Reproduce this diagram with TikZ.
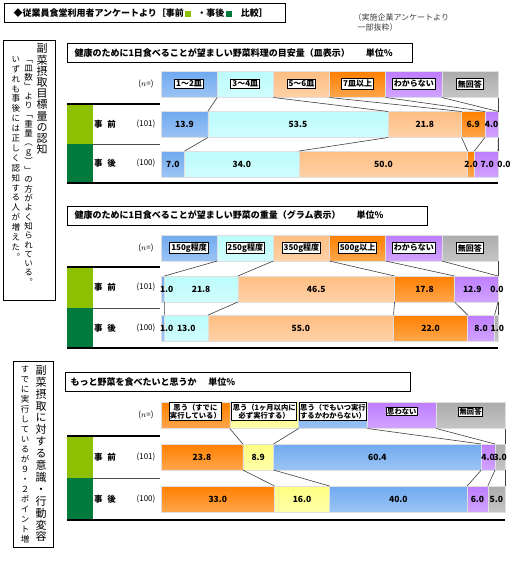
\documentclass[tikz,border=0pt]{standalone}
\usepackage{fontspec}
\setmainfont{Noto Sans CJK JP}
\newfontfamily\tatefont[RawFeature=+vert]{Noto Sans CJK JP}
\usetikzlibrary{positioning}

\definecolor{lgreen}{RGB}{140,192,0}
\definecolor{dgreen}{RGB}{0,122,61}
\definecolor{cblue}{RGB}{112,170,240}
\definecolor{ccyan}{RGB}{188,252,252}
\definecolor{cpeach}{RGB}{255,190,130}
\definecolor{corange}{RGB}{255,128,0}
\definecolor{cpurple}{RGB}{190,125,255}
\definecolor{cgray}{RGB}{172,172,172}
\definecolor{cyellow}{RGB}{255,255,130}

% vertical (tategaki) column: one character per cell
\makeatletter
\newcommand\tate[2]{\vbox{\offinterlineskip\def\tate@pitch{#1}\tate@loop#2\relax}}
\def\tate@loop#1{\ifx\relax#1\else
  \vbox to\tate@pitch{\vss\hbox to 1em{\hss\vrule height .88em depth .12em width 0pt\relax#1\hss}\vss}%
  \expandafter\tate@loop\fi}
\makeatother

% legend strip: name, top, width, number of items, label offset, colour/label list
\newcommand\legbar[6]{
  \foreach \col/\lab [count=\i] in {#6} {
    \pgfmathsetmacro\xa{161+(\i-1)*(#3/#4)}
    \pgfmathsetmacro\xb{161+\i*(#3/#4)}
    \shade[seg, top color=\col, bottom color=\col!70!white] (\xa,#2) rectangle (\xb,#2+26);
    \node[legbox] (#1-n\i) at ({(\xa+\xb)/2},#2+#5) {\lab};
    \coordinate (#1-b\i) at (\xa,#2+26);
  }
  \coordinate (#1-bend) at (161+#3,#2+26);
}

% one bar: name, top, width, value/colour/label/shift list
\newcommand\segbar[4]{
  \xdef\segpos{0}
  \foreach \val/\col/\lab/\dx [count=\i] in {#4} {
    \pgfmathsetmacro\xa{161+\segpos*(#3/100)}
    \pgfmathsetmacro\xb{161+(\segpos+\val)*(#3/100)}
    \ifdim\val pt>0pt
      \shade[seg, top color=\col, bottom color=\col!70!white] (\xa,#2) rectangle (\xb,#2+26);
    \fi
    \coordinate (#1-t\i) at (\xa,#2);
    \coordinate (#1-b\i) at (\xa,#2+26);
    \coordinate (#1-c\i) at ({(\xa+\xb)/2+\dx},#2+13);
    \pgfmathsetmacro\segnew{\segpos+\val}
    \xdef\segpos{\segnew}
  }
  % numbers on top of all segments
  \foreach \val/\col/\lab/\dx [count=\i] in {#4}
    \node[num] (#1-n\i) at (#1-c\i) {\lab};
  \coordinate (#1-tend) at (161+#3,#2);
  \coordinate (#1-bend) at (161+#3,#2+26);
}

% green row frame: name, top, middle, bottom, right end
\newcommand\rowframe[5]{
  \fill[lgreen] (67,#2) rectangle (93,#3);
  \fill[dgreen] (67,#3) rectangle (93,#4);
  \draw[rule] (67,#2) -- (160,#2);
  \draw[black!70, line width=.8] (93,#3) -- (160,#3);
  \draw[rule] (67,#4) -- (#5,#4);
  \node[rowlab] (#1-pre) at (105,{(#2+#3)/2}) {事\hspace{5pt}前};
  \node[rowlab] (#1-post) at (105,{(#3+#4)/2}) {事\hspace{5pt}後};
  \node[nlab] (#1-npre) at (146,{(#2+#3)/2}) {(101)};
  \node[nlab] (#1-npost) at (146,{(#3+#4)/2}) {(100)};
}

\begin{document}
\begin{tikzpicture}[x=1pt, y=-1pt,
  seg/.style={draw=white!75!gray, line width=.4},
  num/.style={font=\fontsize{8.5}{9}\selectfont\bfseries, inner sep=0},
  legbox/.style={draw, line width=.8, fill=white, inner sep=1.5, align=center,
    font=\fontsize{8}{9}\selectfont\bfseries},
  titlebox/.style={draw, line width=1, anchor=north west, align=left, inner xsep=7,
    minimum height=19, font=\fontsize{9}{10}\selectfont\bfseries},
  rowlab/.style={font=\fontsize{8.5}{9}\selectfont\bfseries},
  nlab/.style={font=\fontsize{8}{9}\selectfont},
  link/.style={draw=black!75, line width=.6},
  rule/.style={line width=1.4},
  note/.style={draw, line width=.8, anchor=north west, inner sep=0},
]
\fill[white] (0,0) rectangle (512,562);
\useasboundingbox (0,0) rectangle (512,562);

% header
\node[draw, line width=1.2, minimum width=281, minimum height=19, anchor=north west, inner sep=0] (head) at (4,3) {};
\node[anchor=west, font=\fontsize{9}{9}\selectfont\bfseries] (headtxt) at ([xshift=6]head.west)
  {◆従業員食堂利用者アンケートより［事前\hspace{1.5pt}\textcolor{lgreen}{\rule{6pt}{6pt}}\hspace{6pt}・事後\hspace{1.5pt}\textcolor{dgreen}{\rule{6pt}{6pt}}\hspace{9pt}比較］};
\node[anchor=north west, align=left, font=\fontsize{8}{10}\selectfont, text=black!75] (src) at (350,10)
  {（実施企業アンケートより\\\hspace*{4pt}一部抜粋）};

% notes on the left
\node[note, minimum width=52, minimum height=260] (note1) at (3,40) {};
\node[anchor=north, inner sep=0] (note1a) at (42,43)
  {\tatefont\fontsize{11}{11}\selectfont\tate{11.2pt}{副菜摂取目標量の認知}};
\node[anchor=north, inner sep=0] (note1b) at (28.5,54)
  {\tatefont\fontsize{8.5}{8.5}\selectfont\tate{9.3pt}{「皿数」より「重量（ｇ）」の方がよく知られている。}};
\node[anchor=north, inner sep=0] (note1c) at (16,54)
  {\tatefont\fontsize{8.5}{8.5}\selectfont\tate{9.9pt}{いずれも事後には正しく認知する人が増えた。}};

\node[note, minimum width=40, minimum height=186] (note2) at (13,361) {};
\node[anchor=north, inner sep=0] (note2a) at (41,364)
  {\tatefont\fontsize{11}{11}\selectfont\tate{11.9pt}{副菜摂取に対する意識・行動変容}};
\node[anchor=north, inner sep=0] (note2b) at (25,364)
  {\tatefont\fontsize{8.5}{8.5}\selectfont\tate{10pt}{すでに実行しているが９・２ポイント増}};

% chart 1
\node[titlebox, text width=331] (title1) at (67,43)
  {健康のために1日食べることが望ましい野菜料理の目安量（皿表示）\hspace{16pt}単位\%};
\node[nlab] (n1) at (146,84.5) {($n$=)};
\legbar{lg1}{71.5}{337}{6}{12.5}{cblue/1～2皿, ccyan/3～4皿, cpeach/5～6皿, corange/7皿以上, cpurple/わからない, cgray/無回答}
\rowframe{row1}{104}{144}{183}{498}
\segbar{pre1}{111.5}{337}{13.9/cblue/13.9/0, 53.5/ccyan/53.5/0, 21.8/cpeach/21.8/0, 6.9/corange/6.9/0, 4.0/cpurple/4.0/0, 0/cgray/{}/0}
\segbar{post1}{151}{337}{7.0/cblue/7.0/0, 34.0/ccyan/34.0/0, 50.0/cpeach/50.0/0, 2.0/corange/2.0/0, 7.0/cpurple/7.0/1, 0/cgray/0.0/6}
\foreach \i in {2,...,6}
  \draw[link] (lg1-b\i) -- (pre1-t\i) (pre1-b\i) -- (post1-t\i);
\draw[link] (lg1-bend) -- (pre1-tend) (pre1-bend) -- (post1-tend);

% chart 2
\node[titlebox, text width=346] (title2) at (67,205.5)
  {健康のために1日食べることが望ましい野菜の重量（グラム表示）\hspace{16pt}単位\%};
\node[nlab] (n2) at (146,248) {($n$=)};
\legbar{lg2}{235}{337}{6}{13}{cblue/150g程度, ccyan/250g程度, cpeach/350g程度, corange/500g以上, cpurple/わからない, cgray/無回答}
\rowframe{row2}{267}{308}{348}{498}
\segbar{pre2}{276}{337}{1.0/cblue/1.0/4, 21.8/ccyan/21.8/0, 46.5/cpeach/46.5/0, 17.8/corange/17.8/0, 12.9/cpurple/12.9/-4, 0/cgray/0.0/-1}
\segbar{post2}{315}{337}{1.0/cblue/1.0/4, 13.0/ccyan/13.0/0, 55.0/cpeach/55.0/0, 22.0/corange/22.0/0, 8.0/cpurple/8.0/0, 1.0/cgray/1.0/1}
\foreach \i in {2,...,6}
  \draw[link] (lg2-b\i) -- (pre2-t\i) (pre2-b\i) -- (post2-t\i);
\draw[link] (lg2-bend) -- (pre2-tend) (pre2-bend) -- (post2-tend);

% chart 3
\node[titlebox, inner xsep=5, text width=335] (title3) at (65,372)
  {もっと野菜を食べたいと思うか\hspace{12pt}単位\%};
\node[nlab] (n3) at (146,415.5) {($n$=)};
\begin{scope}[legbox/.append style={font=\fontsize{7.3}{8.5}\selectfont\bfseries, inner sep=1}]
\legbar{lg3}{402.5}{344}{5}{9}{corange/{思う（すでに\\実行している）}, cyellow/{思う（1ヶ月以内に\\必ず実行する）}, cblue/{思う（でもいつ実行\\するかわからない）}, cpurple/思わない, cgray/無回答}
\end{scope}
\rowframe{row3}{436}{478}{520}{505}
\segbar{pre3}{444}{344}{23.8/corange/23.8/0, 8.9/cyellow/8.9/0, 60.4/cblue/60.4/0, 4.0/cpurple/4.0/0, 3.0/cgray/3.0/0}
\segbar{post3}{486}{344}{33.0/corange/33.0/0, 16.0/cyellow/16.0/0, 40.0/cblue/40.0/0, 6.0/cpurple/6.0/0, 5.0/cgray/5.0/0}
\foreach \i in {2,...,5}
  \draw[link] (lg3-b\i) -- (pre3-t\i) (pre3-b\i) -- (post3-t\i);
\draw[link] (lg3-bend) -- (pre3-tend) (pre3-bend) -- (post3-tend);
\end{tikzpicture}
\end{document}
